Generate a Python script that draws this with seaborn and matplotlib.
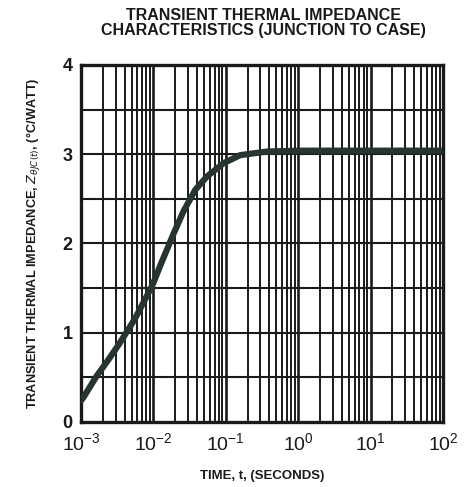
import numpy as np
import pandas as pd
import matplotlib
matplotlib.use("Agg")
import matplotlib.pyplot as plt
import seaborn as sns

# Transient thermal impedance, junction to case
time_s = [1.0e-3, 1.07e-3, 1.63e-3, 2.4e-3, 3.4e-3, 5.5e-3, 8.6e-3, 9.9e-3,
          1.24e-2, 1.9e-2, 2.6e-2, 3.78e-2, 5.48e-2, 9.3e-2, 0.158,
          0.37, 1.0, 10.0, 100.0]
z_thjc = [0.24, 0.27, 0.51, 0.70, 0.88, 1.15, 1.45, 1.55,
          1.75, 2.11, 2.36, 2.60, 2.75, 2.90, 2.99,
          3.03, 3.04, 3.04, 3.04]
y_ticks = [0, 1, 2, 3, 4]
x_ticks = [1e-3, 1e-2, 1e-1, 1e0, 1e1, 1e2]
x_tick_labels = [r"$\mathregular{10^{-3}}$", r"$\mathregular{10^{-2}}$",
                 r"$\mathregular{10^{-1}}$", r"$\mathregular{10^{0}}$",
                 r"$\mathregular{10^{1}}$", r"$\mathregular{10^{2}}$"]

df = pd.DataFrame({"t": time_s, "z": z_thjc})

sns.set_theme(style="white")
plt.rcParams["font.family"] = ["Liberation Sans", "DejaVu Sans"]

W, H = 476, 487
fig = plt.figure(figsize=(W / 100, H / 100), dpi=100)
ax = fig.add_axes([81 / W, 1 - 422 / H, 362 / W, 357 / H])

ink = "#1a1a1a"

ax.set_xscale("log")
ax.set_xlim(1e-3, 1e2)
ax.set_ylim(0, 4)

# Graph-paper grid: every decade subdivision and every half unit
decades = [1e-3, 1e-2, 1e-1, 1e0, 1e1]
for d in decades:
    for k in range(2, 10):
        ax.axvline(d * k, color=ink, lw=1.4, zorder=1)
    ax.axvline(d * 10, color=ink, lw=1.9, zorder=1)
for yv in np.arange(0.5, 4.0, 0.5):
    ax.axhline(yv, color=ink, lw=1.5, zorder=1)

sns.lineplot(data=df, x="t", y="z", ax=ax, color="#27352e", lw=4.5,
             zorder=3, legend=False)

for s in ax.spines.values():
    s.set_color(ink)
    s.set_linewidth(2.4)
    s.set_visible(True)

ax.set_yticks(y_ticks)
ax.set_yticklabels([str(v) for v in y_ticks], fontsize=13, fontweight="bold")
ax.set_xticks(x_ticks)
ax.set_xticklabels(x_tick_labels, fontsize=14)
ax.xaxis.set_minor_locator(matplotlib.ticker.NullLocator())
ax.tick_params(axis="both", length=0, colors=ink)
ax.tick_params(axis="x", pad=7)
ax.tick_params(axis="y", pad=6)

ax.set_xlabel("TIME, t, (SECONDS)", fontsize=9.5, fontweight="bold",
              color=ink, labelpad=12)
ax.set_ylabel(r"TRANSIENT THERMAL IMPEDANCE, $Z_{\theta JC(t)}$, (°C/WATT)",
              fontsize=9.2, fontweight="bold", color=ink, labelpad=14)

fig.text(263 / W, 1 - 23 / H,
         "TRANSIENT THERMAL IMPEDANCE\nCHARACTERISTICS (JUNCTION TO CASE)",
         ha="center", va="center", fontsize=11.5, fontweight="bold",
         color=ink, linespacing=0.92)

fig.savefig("out.png", dpi=100)
